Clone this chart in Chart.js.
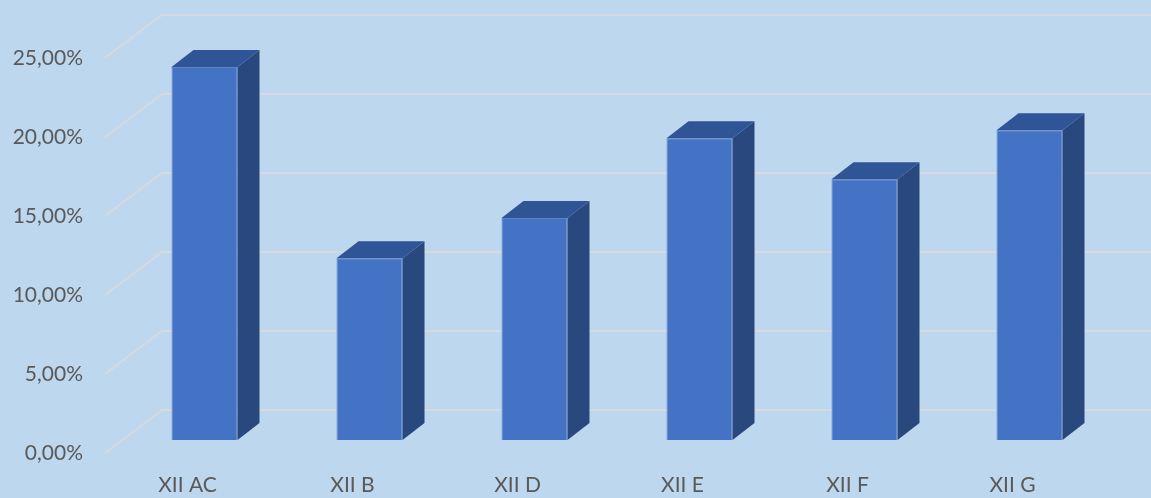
<!DOCTYPE html>
<html>
<head>
<meta charset="utf-8">
<script src="https://cdn.jsdelivr.net/npm/chart.js@4/dist/chart.umd.min.js"></script>
<style>
  body { margin: 0; background: #BDD7EE; }
  #wrap { width: 1151px; height: 498px; }
</style>
</head>
<body>
<div id="wrap"><canvas id="myChart"></canvas></div>
<script>
// data
var classes = ['XII AC', 'XII B', 'XII D', 'XII E', 'XII F', 'XII G'];
var percents = [23.6, 11.5, 14.05, 19.1, 16.5, 19.6];
var tickValues = [0, 5, 10, 15, 20, 25];

// 3D look: depth offset of the bar boxes, and of the floor / back wall
const depthX = 22, depthY = 17;
const wallX = 40, wallY = 30;
const floorX = -17, floorY = 13;

const fake3d = {
    id: 'fake3d',
    beforeDatasetsDraw(chart) {
        const ctx = chart.ctx;
        const area = chart.chartArea;
        const y = chart.scales.y;
        ctx.save();
        ctx.strokeStyle = '#D6D9DE';
        ctx.lineWidth = 2;
        for (let v of tickValues) {
            const py = y.getPixelForValue(v);
            ctx.beginPath();
            ctx.moveTo(area.left + floorX, py + floorY);
            ctx.lineTo(area.left + wallX, py - wallY);
            ctx.lineTo(chart.width, py - wallY);
            ctx.stroke();
        }
        ctx.restore();
    },
    afterDatasetsDraw(chart) {
        const ctx = chart.ctx;
        const meta = chart.getDatasetMeta(0);
        ctx.save();
        meta.data.forEach((bar) => {
            const p = bar.getProps(['x', 'y', 'base', 'width'], true);
            const left = p.x - p.width / 2;
            const right = p.x + p.width / 2;
            // side
            ctx.fillStyle = '#29487D';
            ctx.beginPath();
            ctx.moveTo(right, p.base);
            ctx.lineTo(right + depthX, p.base - depthY);
            ctx.lineTo(right + depthX, p.y - depthY);
            ctx.lineTo(right, p.y);
            ctx.closePath();
            ctx.fill();
            // top
            ctx.fillStyle = '#305597';
            ctx.beginPath();
            ctx.moveTo(left, p.y);
            ctx.lineTo(left + depthX, p.y - depthY);
            ctx.lineTo(right + depthX, p.y - depthY);
            ctx.lineTo(right, p.y);
            ctx.closePath();
            ctx.fill();
        });
        ctx.restore();
    }
};

var ctx = document.getElementById('myChart').getContext('2d');
var chart = new Chart(ctx, {
    type: 'bar',
    data: {
        labels: classes,
        datasets: [{
            data: percents,
            backgroundColor: '#4472C4',
            borderColor: '#5B83CC',
            borderWidth: 1,
            categoryPercentage: 1,
            barPercentage: 0.4
        }]
    },
    options: {
        responsive: true,
        maintainAspectRatio: false,
        animation: false,
        layout: { padding: { left: 0, top: 45, right: 39, bottom: 0 } },
        plugins: { legend: { display: false }, tooltip: { enabled: false } },
        scales: {
            x: {
                grid: { display: false, drawTicks: false },
                border: { display: false },
                ticks: {
                    color: '#595959',
                    font: { family: 'Lato', size: 21 },
                    padding: 33,
                    labelOffset: floorX,
                    maxRotation: 0
                },
                afterFit(scale) { scale.height = 58; scale.paddingLeft = 0; scale.paddingRight = 0; }
            },
            y: {
                min: 0,
                max: 25,
                grid: { display: false, drawTicks: false },
                border: { display: false },
                ticks: {
                    stepSize: 5,
                    color: '#595959',
                    font: { family: 'Lato', size: 21 },
                    padding: 39,
                    labelOffset: floorY,
                    callback: (v) => v.toFixed(2).replace('.', ',') + '%'
                },
                afterFit(scale) { scale.width = 122; scale.paddingTop = 0; scale.paddingBottom = 0; }
            }
        }
    },
    plugins: [fake3d]
});
</script>
</body>
</html>
